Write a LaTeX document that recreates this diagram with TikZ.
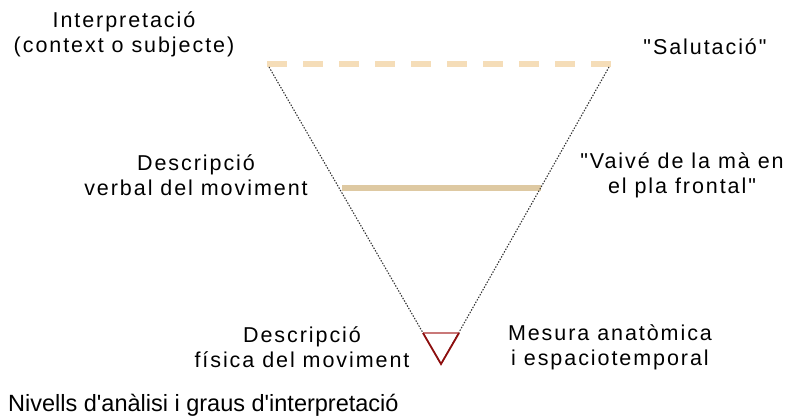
\documentclass[tikz,border=0pt]{standalone}
\usepackage{fontspec}
\setmainfont{Liberation Sans}[Ligatures=TeXOff]
\newfontfamily\lblfont{Liberation Sans}[Ligatures=TeXOff,LetterSpace=9]
\definecolor{topbeige}{HTML}{F5DDB8}
\definecolor{midtan}{HTML}{DEC9A2}
\definecolor{trired}{HTML}{8E0E0E}
\definecolor{trilight}{HTML}{C97878}
\definecolor{dotgray}{HTML}{333333}
\begin{document}
\begin{tikzpicture}[x=1pt,y=-1pt,
  lab/.style={font=\lblfont\fontsize{21.5}{25}\selectfont, align=center, inner sep=0pt, text=black},
  caption/.style={font=\fontsize{23.5}{26}\selectfont, inner sep=0pt, anchor=west, text=black},
  guide/.style={draw=dotgray, line width=1.1pt, dash pattern=on 1.4pt off 1.5pt},
  band/.style={line width=6.5pt}]
\useasboundingbox (0,0) rectangle (791,419);
% geometry
\coordinate (TLd) at (267,64);
\coordinate (TRd) at (611,64);
\coordinate (TL) at (269,67);
\coordinate (TR) at (609,67);
\coordinate (tip) at (441,364);
\coordinate (ML) at (342,188);
\coordinate (MR) at (541,188);
\coordinate (A) at (423,333);
\coordinate (B) at (459,333);
% bands
\draw[band, topbeige, dash pattern=on 20pt off 16pt] (TLd) -- (TRd);
\draw[band, midtan] (ML) -- (MR);
% guides
\draw[guide] (TL) -- (tip);
\draw[guide] (TR) -- (tip);
% triangle
\draw[trilight, line width=1.8pt] (A) -- (B);
\draw[trired, line width=1.8pt, line join=miter] (A) -- (tip) -- (B);
% labels
\node[lab] (interp) at (124,34.5) {Interpretació\\(context o subjecte)};
\node[lab] (salut) at (705,47) {"Salutació"};
\node[lab] (desc1) at (196,175) {Descripció\\verbal del moviment};
\node[lab] (vaive) at (682,175) {"Vaivé de la mà en\\el pla frontal"};
\node[lab] (desc2) at (302,347.5) {Descripció\\física del moviment};
\node[lab] (mesura) at (610,347.5) {Mesura anatòmica\\i espaciotemporal};
\node[caption] (cap) at (8,405) {Nivells d'anàlisi i graus d'interpretació};
\end{tikzpicture}
\end{document}
